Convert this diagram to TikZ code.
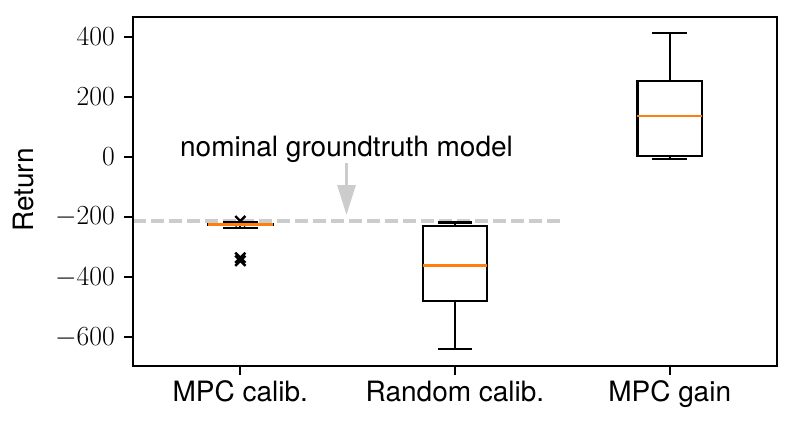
\documentclass[tikz,border=0pt]{standalone}
\usepackage{fontspec}
\setsansfont{TeX Gyre Heros}
\usetikzlibrary{math,arrows.meta}

\definecolor{medianorange}{HTML}{FF7F0E}
\definecolor{guidegray}{RGB}{204,204,204}

\tikzset{
  axisline/.style={line width=1.5pt},
  boxline/.style={line width=1.7pt, line cap=rect},
  median/.style={line width=1.7pt, medianorange},
  flier/.style={line width=1.8pt},
  guide/.style={line width=2.5pt, guidegray},
  ticklabel/.style={font=\fontsize{21}{25}\selectfont, inner sep=0pt},
  axislabel/.style={font=\sffamily\fontsize{21}{25}\selectfont, inner sep=0pt},
}

\begin{document}
\begin{tikzpicture}[x=0.75pt, y=0.75pt]
  \useasboundingbox (0,0) rectangle (793,426);
  \tikzmath{\gt = -213; \bw = 0.15; \cw = 0.075;}
  \begin{scope}[shift={(25.67,269)}, x=161.0pt, y=0.2256pt]
    % groundtruth level
    \draw[guide, dash pattern=on 9.45pt off 4.05pt] (0.5,\gt) -- (2.5,\gt);

    \foreach \v in {-213,-335,-345}
      \draw[flier] (1,\v) +(-3.8pt,-3.8pt) -- +(3.8pt,3.8pt) +(-3.8pt,3.8pt) -- +(3.8pt,-3.8pt);
    \foreach \p/\lo/\qa/\med/\qb/\hi in {1/-237/-226/-224/-223/-216, 2/-639/-479/-361/-229/-218, 3/-6/4/137/252/413} {
      \draw[boxline] (\p,\lo) -- (\p,\qa) (\p,\qb) -- (\p,\hi);
      \draw[boxline] (\p-\cw,\lo) -- (\p+\cw,\lo) (\p-\cw,\hi) -- (\p+\cw,\hi);
      \draw[boxline, line cap=butt] (\p-\bw,\qa) rectangle (\p+\bw,\qb);
      \draw[median] (\p-\bw,\med) -- (\p+\bw,\med);
    }

    % axes
    \draw[axisline] (0.5,-695) rectangle (3.5,465);
    \foreach \v in {-600,-400,...,400} {
      \draw[axisline] (0.5,\v) -- ++(-6.75pt,0pt);
      \node[ticklabel, anchor=east, xshift=-13.5pt] (ytick\v) at (0.5,\v) {$\v$};
    }
    \foreach \p/\lab/\nm in {1/MPC calib./mpc, 2/Random calib./random, 3/MPC gain/gain} {
      \draw[axisline] (\p,-695) -- ++(0pt,-6.75pt);
      \node[axislabel, anchor=base, yshift=-26.8pt] (xtick\nm) at (\p,-695) {\lab};
    }
  \end{scope}

  \node[axislabel, rotate=90, anchor=base] (ylabel) at (33.3,236) {Return};
  \node[axislabel, anchor=base] (note) at (346.5,269.3) {nominal groundtruth model};
  \coordinate (tip) at (346.5,211);
  \draw[guidegray, line width=2.25pt, -{Triangle[length=22.5pt, width=13.5pt]}] (note) -- (tip);
\end{tikzpicture}
\end{document}
